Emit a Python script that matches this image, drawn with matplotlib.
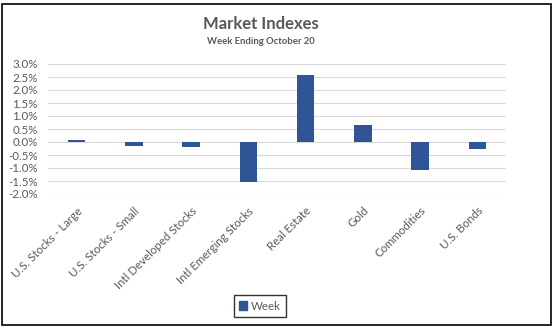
import matplotlib
matplotlib.use("Agg")
import matplotlib.pyplot as plt
from matplotlib.ticker import FuncFormatter
from matplotlib.patches import Rectangle

categories = ["U.S. Stocks - Large", "U.S. Stocks - Small", "Intl Developed Stocks",
              "Intl Emerging Stocks", "Real Estate", "Gold", "Commodities", "U.S. Bonds"]
week = [0.08, -0.15, -0.18, -1.54, 2.58, 0.65, -1.08, -0.27]
yticks = [3.0, 2.5, 2.0, 1.5, 1.0, 0.5, 0.0, -0.5, -1.0, -1.5, -2.0]

plt.rcParams['font.family'] = ['Lato', 'DejaVu Sans']
gray = "#595959"
barc = "#2F5597"

fig = plt.figure(figsize=(5.55, 3.28), dpi=100)
ax = fig.add_axes([48/555, 1-194/328, (506-48)/555, (194-64)/328])

x = range(len(categories))
ax.bar(x, week, width=0.31, color=barc, zorder=3)
ax.set_ylim(-2.0, 3.0)
ax.set_xlim(-0.5, len(categories)-0.5)
ax.set_yticks(yticks)
ax.yaxis.set_major_formatter(FuncFormatter(lambda v, p: f"{v:.1f}%"))
ax.grid(axis='y', color="#D9D9D9", linewidth=0.8, zorder=0)
for s in ax.spines.values():
    s.set_visible(False)
ax.tick_params(axis='both', length=0, labelsize=8.3, labelcolor=gray)
ax.tick_params(axis='y', pad=7.5)
ax.set_xticks(list(x))
ax.set_xticklabels(categories, rotation=45, ha='right', rotation_mode='anchor')
ax.tick_params(axis='x', pad=8)

fig.text(261/555, 1-24/328, "Market Indexes", ha='center', va='center', fontsize=12,
         fontweight='bold', color=gray)
fig.text(261/555, 1-42/328, "Week Ending October 20", ha='center', va='center', fontsize=6.8,
         fontweight='bold', color=gray)

leg = fig.legend([Rectangle((0, 0), 1, 1, color=barc)], ["Week"], loc='center',
                 bbox_to_anchor=(260/555, 1-306/328), frameon=True, fontsize=8.3,
                 handlelength=0.7, handleheight=0.7, handletextpad=0.3, fancybox=False,
                 borderpad=0.5)
leg.get_frame().set_edgecolor("black")
leg.get_frame().set_linewidth(1.0)
for t in leg.get_texts():
    t.set_color(gray)

fig.patches.append(Rectangle((2/555, 3/328), 549/555, 321/328, transform=fig.transFigure,
                             fill=False, edgecolor="black", linewidth=1.2))
fig.savefig("out.png", dpi=100)
